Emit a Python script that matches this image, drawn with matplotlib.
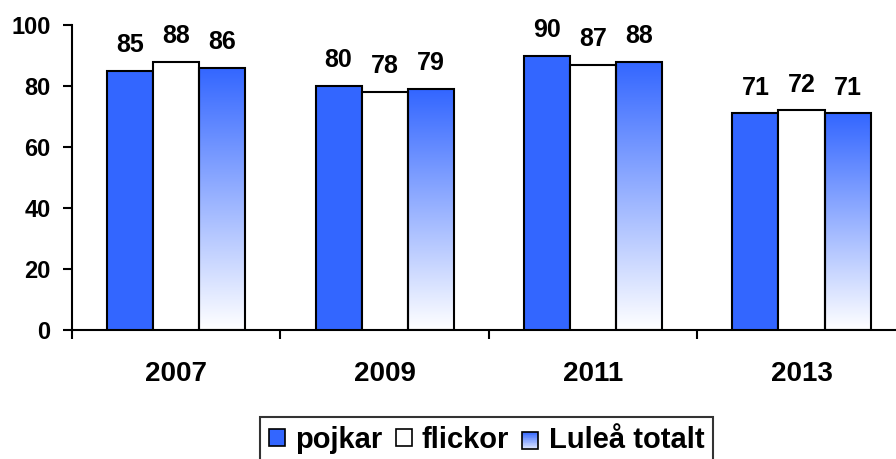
import matplotlib
matplotlib.use('Agg')
import matplotlib.pyplot as plt
from matplotlib.colors import LinearSegmentedColormap
from matplotlib.patches import Rectangle, Patch
from matplotlib.legend_handler import HandlerBase
import numpy

years = ['2007', '2009', '2011', '2013']
pojkar = [85, 80, 90, 71]
flickor = [88, 78, 87, 72]
totalt = [86, 79, 88, 71]
series_names = ['pojkar', 'flickor', 'Luleå totalt']

plt.rcParams['font.family'] = ['Liberation Sans', 'DejaVu Sans']
plt.rcParams['font.weight'] = 'bold'

blue = '#3366FF'
grad = LinearSegmentedColormap.from_list('grad', ['#FFFFFF', blue])


class GradHandler(HandlerBase):
    # ruta med gradient i legenden
    def create_artists(self, legend, orig, xd, yd, w, h, fontsize, trans):
        n = 24
        arts = []
        for i in range(n):
            arts.append(Rectangle((xd, yd + h * i / n), w, h / n,
                                  facecolor=grad(0.15 + 0.85 * i / (n - 1)),
                                  lw=0, transform=trans))
        arts.append(Rectangle((xd, yd), w, h, fill=False, edgecolor='black',
                              lw=1.2, transform=trans))
        return arts


fig = plt.figure(figsize=(8.96, 4.59), dpi=100)
ax = fig.add_axes([0.0804, 0.281, 0.9304, 0.6645])

x = numpy.arange(len(years))
w = 0.221

ax.bar(x - w, pojkar, w, color=blue, edgecolor='black', lw=1.5, zorder=3)
ax.bar(x, flickor, w, color='white', edgecolor='black', lw=1.5, zorder=3)

# gradient staplar
img = numpy.linspace(1, 0, 256).reshape(-1, 1)
for xi, val in zip(x + w, totalt):
    ax.imshow(img, cmap=grad, vmin=0, vmax=1, aspect='auto',
              extent=[xi - w / 2, xi + w / 2, 0, val], zorder=2,
              interpolation='bilinear')
ax.bar(x + w, totalt, w, color='none', edgecolor='black', lw=1.5, zorder=3)

# etiketter
for xs, vals in [(x - w, pojkar), (x, flickor), (x + w, totalt)]:
    for xi, v in zip(xs, vals):
        ax.annotate(str(v), (xi, v), xytext=(0, 10), textcoords='offset points',
                    ha='center', va='bottom', fontsize=18, fontweight='bold')

ax.set_xlim(-0.5, len(years) - 0.5)
ax.set_ylim(0, 100)
ax.set_yticks([0, 20, 40, 60, 80, 100])
ax.tick_params(axis='y', direction='out', length=6.5, width=1.5,
               labelsize=17, pad=9)

ax.set_xticks(x)
ax.set_xticklabels(years, fontsize=20, fontweight='bold')
ax.set_xticks(numpy.arange(len(years) + 1) - 0.5, minor=True)
ax.tick_params(axis='x', which='major', length=0, pad=22)
ax.tick_params(axis='x', which='minor', direction='out', length=6.5, width=1.5)

for s in ['top', 'right']:
    ax.spines[s].set_visible(False)
for s in ['left', 'bottom']:
    ax.spines[s].set_linewidth(1.5)

handles = [Patch(facecolor=blue, edgecolor='black', lw=1.2),
           Patch(facecolor='white', edgecolor='black', lw=1.2),
           Patch(facecolor='none', edgecolor='black')]
leg = fig.legend(handles, series_names, loc='upper center',
                 bbox_to_anchor=(0.543, 0.0915), ncol=3, fontsize=21,
                 frameon=True, fancybox=False, borderaxespad=0,
                 handlelength=0.55, handleheight=0.55, handletextpad=0.35,
                 columnspacing=0.45, borderpad=0.3,
                 handler_map={handles[2]: GradHandler()})
leg.get_frame().set_edgecolor('black')
leg.get_frame().set_linewidth(1.5)

fig.savefig('out.png', dpi=100)
